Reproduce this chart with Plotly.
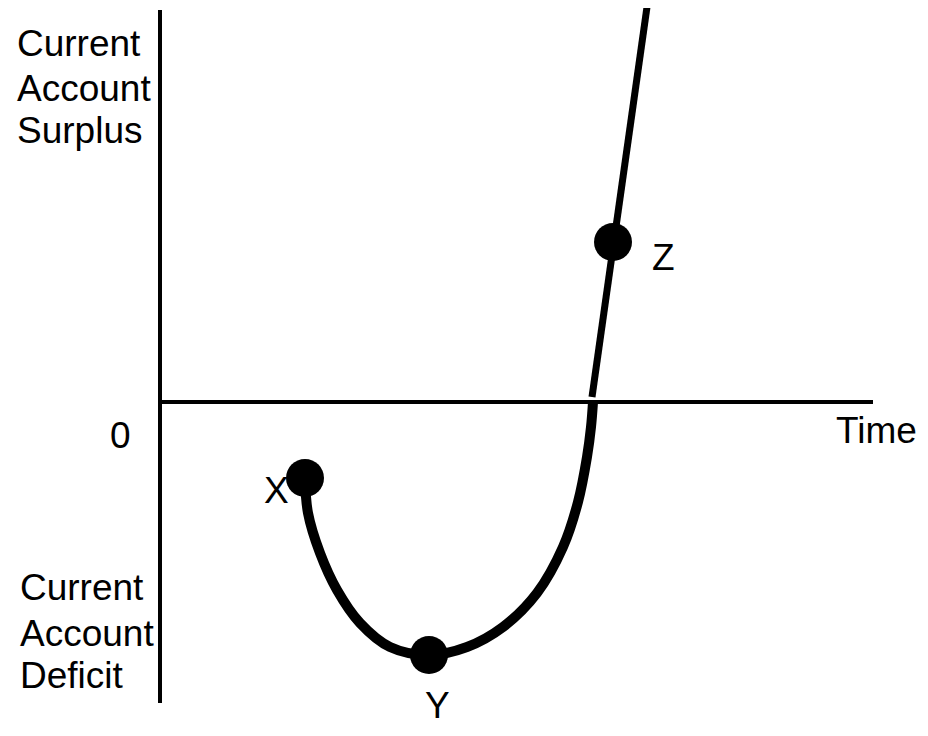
import plotly.graph_objects as go

# J-curve: current account balance over time (units are arbitrary)
curve_time = [145, 148, 160, 177, 200, 230, 269, 307, 343, 377, 403, 418, 427, 431, 433]
curve_balance = [-76, -111, -151, -188, -221, -245, -253, -245, -225, -191, -145, -100, -55, -25, 0]

rise_time = [432, 487]
rise_balance = [5, 395]

point_names = ['X', 'Y', 'Z']
point_time = [145, 269, 453]
point_balance = [-76, -253, 160]

# label positions next to the points
label_time = [116, 277, 503]
label_balance = [-88, -303, 145]

surplus_lines = ['Current', 'Account', 'Surplus']
surplus_y = [359, 314, 272]
deficit_lines = ['Current', 'Account', 'Deficit']
deficit_y = [-185, -231, -273]

axis_top = 392
axis_bottom = -301
axis_right = 713

font = dict(family='Liberation Sans, Arial, sans-serif', size=37, color='black')

fig = go.Figure()

# axes drawn as plain lines
fig.add_trace(go.Scatter(x=[0, 0], y=[axis_top, axis_bottom], mode='lines',
                         line=dict(color='black', width=4), hoverinfo='skip'))
fig.add_trace(go.Scatter(x=[0, axis_right], y=[0, 0], mode='lines',
                         line=dict(color='black', width=4), hoverinfo='skip'))

fig.add_trace(go.Scatter(x=curve_time, y=curve_balance, mode='lines',
                         line=dict(color='black', width=10, shape='spline'),
                         hoverinfo='skip'))
fig.add_trace(go.Scatter(x=rise_time, y=rise_balance, mode='lines',
                         line=dict(color='black', width=7), hoverinfo='skip'))
fig.add_trace(go.Scatter(x=point_time, y=point_balance, mode='markers',
                         marker=dict(color='black', size=38),
                         text=point_names, hoverinfo='text'))

annotations = []
for name, tx, ty in zip(point_names, label_time, label_balance):
    annotations.append(dict(x=tx, y=ty, text=name, showarrow=False, font=font))
for line, ty in zip(surplus_lines, surplus_y):
    annotations.append(dict(x=-145, y=ty, text=line, showarrow=False, font=font,
                            xanchor='left'))
for line, ty in zip(deficit_lines, deficit_y):
    annotations.append(dict(x=-142, y=ty, text=line, showarrow=False, font=font,
                            xanchor='left'))
annotations.append(dict(x=-40, y=-33, text='0', showarrow=False, font=font))
annotations.append(dict(x=716, y=-28, text='Time', showarrow=False, font=font))

# ranges shifted to allow for the page's 8px body margin
fig.update_layout(
    width=928, height=736,
    margin=dict(l=0, r=0, t=0, b=0),
    paper_bgcolor='white', plot_bgcolor='white',
    showlegend=False,
    annotations=annotations,
    xaxis=dict(range=[-152, 776], visible=False, fixedrange=True),
    yaxis=dict(range=[-342, 394], visible=False, fixedrange=True),
)

fig.write_html("out.html")
